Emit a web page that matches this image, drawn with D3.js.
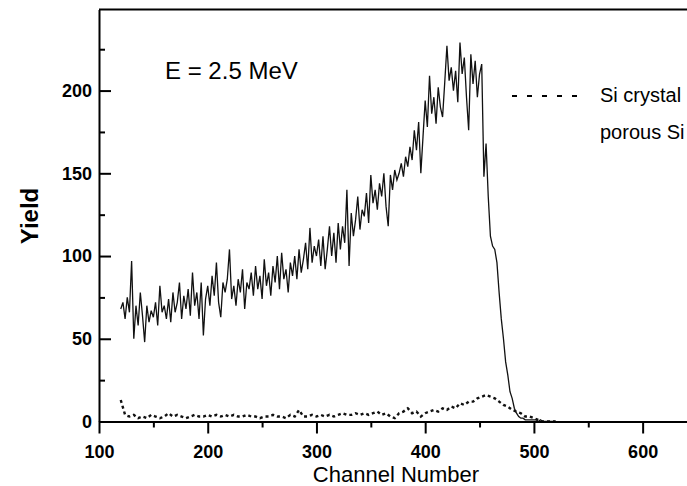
<!DOCTYPE html>
<html>
<head>
<meta charset="utf-8">
<script src="https://cdn.jsdelivr.net/npm/d3@7/dist/d3.min.js"></script>
<style>
  body { margin: 0; background: #fff; }
  svg { display: block; font-family: "Liberation Sans", Arial, sans-serif; }
</style>
</head>
<body>
<div id="chart-area"></div>
<script>
// porous Si spectrum, one value every 2 channels starting at channel 120
let porousStart = 120, porousStep = 2;
let porousYield = [
	68, 72, 62, 75, 66, 97, 50, 70, 58, 78,
	64, 48, 70, 60, 67, 63, 72, 58, 82, 66,
	70, 62, 74, 60, 78, 66, 72, 84, 62, 76,
	68, 80, 64, 90, 70, 78, 62, 84, 52, 74,
	82, 70, 88, 76, 96, 72, 63, 84, 78, 86,
	104, 74, 82, 70, 86, 78, 92, 68, 84, 80,
	90, 76, 94, 80, 88, 74, 98, 82, 90, 76,
	94, 84, 100, 80, 102, 86, 92, 78, 96, 88,
	100, 86, 104, 90, 98, 108, 92, 117, 96, 106,
	100, 110, 94, 112, 92, 104, 118, 100, 114, 96,
	120, 104, 118, 108, 140, 94, 126, 112, 122, 136,
	116, 128, 124, 138, 120, 149, 132, 140, 128, 144,
	136, 150, 130, 118, 149, 140, 152, 146, 150, 156,
	148, 160, 154, 166, 158, 176, 164, 181, 150, 172,
	194, 178, 209, 186, 196, 180, 202, 190, 184, 205,
	227, 206, 214, 200, 212, 193, 229, 210, 220, 196,
	176, 222, 204, 218, 196, 210, 216, 148, 168, 136,
	112, 106, 104, 96, 78, 62, 50, 36, 28, 18,
	14, 8, 5, 3, 2, 2, 1, 1, 1, 1,
	1, 1, 0, 1, 0, 0, 0, 0, 0, 0, 0
];

// Si crystal spectrum, one value every 4 channels starting at channel 120
let crystalStart = 120, crystalStep = 4;
let crystalYield = [
	13, 4, 3, 4, 2, 3, 2, 4, 3, 2,
	3, 5, 3, 4, 3, 2, 3, 4, 3, 3,
	4, 3, 4, 3, 4, 3, 4, 3, 3, 4,
	3, 3, 2, 3, 3, 4, 3, 3, 2, 4,
	3, 7, 3, 3, 4, 3, 4, 3, 4, 3,
	4, 5, 4, 4, 5, 4, 5, 4, 5, 6,
	4, 5, 3, 2, 5, 6, 8, 5, 6, 3,
	5, 6, 7, 6, 8, 7, 9, 8, 11, 10,
	12, 12, 14, 15, 16, 15, 14, 12, 10, 9,
	7, 6, 5, 3, 3, 2, 1, 0, 0, 0, 0
];

let xTicks = [100, 200, 300, 400, 500, 600];
let xMinor = [150, 250, 350, 450, 550, 650];
let yTicks = [0, 50, 100, 150, 200];
let yMinor = [25, 75, 125, 175, 225];

let svg = d3.select("#chart-area").append("svg")
	.attr("width", 687)
	.attr("height", 486)

let x = d3.scaleLinear().domain([100, 650]).range([99, 697]);
let y = d3.scaleLinear().domain([0, 249]).range([421.5, 9.5]);

let porous = porousYield.map(function(v, i) { return {c: porousStart + i * porousStep, v: v}; });
let crystal = crystalYield.map(function(v, i) { return {c: crystalStart + i * crystalStep, v: v}; });

let line = d3.line()
	.x(function(d) { return x(d.c); })
	.y(function(d) { return y(d.v); });

// data
svg.append("path")
	.attr("d", line(porous))
	.attr("fill", "none")
	.attr("stroke", "#111")
	.attr("stroke-width", 1.3)

svg.append("path")
	.attr("d", line(crystal))
	.attr("fill", "none")
	.attr("stroke", "#111")
	.attr("stroke-width", 2.4)
	.attr("stroke-dasharray", "3,3")

// top frame
svg.append("line")
	.attr("x1", x(100)).attr("x2", 687)
	.attr("y1", y(249)).attr("y2", y(249))
	.attr("stroke", "#000")
	.attr("stroke-width", 2)

// x axis
let xAxis = svg.append("g")
	.attr("transform", "translate(0," + y(0) + ")")
	.call(d3.axisBottom(x).tickValues(xTicks).tickSizeInner(12).tickSizeOuter(0).tickPadding(12))
xAxis.append("g")
	.call(d3.axisBottom(x).tickValues(xMinor).tickSize(6).tickFormat(""))
	.select(".domain").remove();

// y axis, ticks pointing inside
let yAxis = svg.append("g")
	.attr("transform", "translate(" + x(100) + ",0)")
	.call(d3.axisLeft(y).tickValues(yTicks).tickSizeInner(-12).tickSizeOuter(0).tickPadding(7))
yAxis.append("g")
	.call(d3.axisLeft(y).tickValues(yMinor).tickSize(-6).tickFormat(""))
	.select(".domain").remove();

svg.selectAll(".domain, .tick line")
	.attr("stroke", "#000")
	.attr("stroke-width", 2)

svg.selectAll(".tick text")
	.attr("font-family", "'Liberation Sans', Arial, sans-serif")
	.attr("font-size", 18)
	.attr("font-weight", "bold")
	.attr("fill", "#000")

// titles
svg.append("text")
	.attr("transform", "translate(38,216) rotate(-90)")
	.attr("text-anchor", "middle")
	.attr("font-size", 24)
	.attr("font-weight", "bold")
	.text("Yield")

svg.append("text")
	.attr("x", 396).attr("y", 482)
	.attr("text-anchor", "middle")
	.attr("font-size", 22)
	.text("Channel Number")

svg.append("text")
	.attr("x", 165).attr("y", 79)
	.attr("font-size", 24)
	.text("E = 2.5 MeV")

// legend
svg.append("line")
	.attr("x1", 512).attr("x2", 578)
	.attr("y1", 96).attr("y2", 96)
	.attr("stroke", "#000")
	.attr("stroke-width", 2)
	.attr("stroke-dasharray", "5,10")

svg.append("text")
	.attr("x", 600).attr("y", 102)
	.attr("font-size", 20)
	.text("Si crystal")

svg.append("text")
	.attr("x", 600).attr("y", 139)
	.attr("font-size", 20)
	.text("porous Si")
</script>
</body>
</html>
